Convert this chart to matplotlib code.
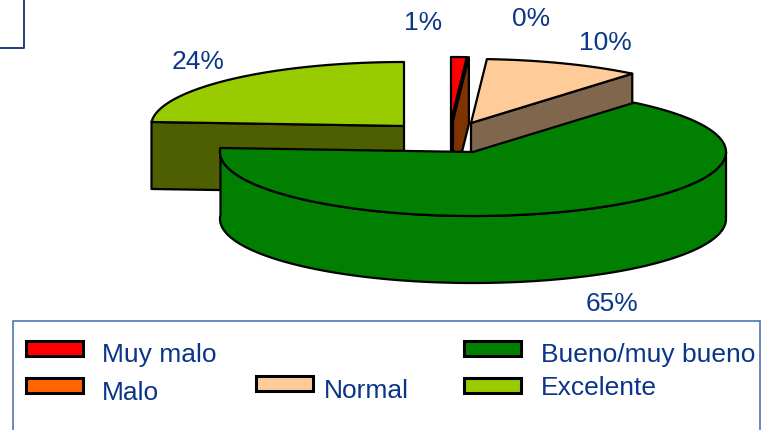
import matplotlib
matplotlib.use('Agg')
import matplotlib.pyplot as plt
import numpy as np
from matplotlib.patches import Polygon, Rectangle

plt.rcParams['font.family'] = ['Liberation Sans', 'DejaVu Sans']

categories = ['Muy malo', 'Malo', 'Normal', 'Bueno/muy bueno', 'Excelente']
values = [1, 0, 10, 65, 24]
pct_labels = ['1%', '0%', '10%', '65%', '24%']
top_colors = ['#FF0000', '#FF6600', '#FFCC99', '#007F00', '#99CC00']
side_colors = ['#7F0000', '#7F3300', '#80664C', '#007F00', '#4D5F00']

# 饼图的几何参数（像素）
rx, ry, depth = 253, 64, 67
apex = [(451, 121), (453, 121), (471, 123), (473, 152), (404, 126)]
label_pos = [(423, 23), (531, 19), (605, 43), (612, 304), (198, 62)]
draw_order = [4, 0, 1, 2, 3]

legend_box = [(26, 341), (26, 378), (256, 376), (464, 341), (464, 378)]
legend_text = [(102, 355), (102, 393), (324, 391), (541, 355), (541, 388)]
navy = '#0B3588'

fig = plt.figure(figsize=(7.72, 4.30), dpi=100)
ax = fig.add_axes([0, 0, 1, 1])
ax.set_xlim(0, 772)
ax.set_ylim(430, 0)
ax.axis('off')

angles = np.cumsum([0] + values) * 3.6


def rim(cx, cy, a0, a1):
    t = np.radians(np.linspace(a0, a1, max(int(abs(a1 - a0) * 2), 2)))
    return np.column_stack([cx + rx * np.sin(t), cy - ry * np.cos(t)])


def poly(pts, color, z):
    ax.add_patch(Polygon(pts, closed=True, facecolor=color, edgecolor='black',
                         linewidth=1.6, joinstyle='round', zorder=z))


for z, i in enumerate(draw_order):
    cx, cy = apex[i]
    a0, a1 = angles[i], angles[i + 1]
    base = z * 5 + 2
    down = np.array([0, depth])
    # 切面：右半边看到结束角，左半边看到开始角
    p0 = rim(cx, cy, a0, a0)[0]
    p1 = rim(cx, cy, a1, a1)[0]
    if a1 < 180:
        poly([(cx, cy), p1, p1 + down, (cx, cy + depth)], side_colors[i], base)
    if a0 > 180:
        poly([(cx, cy), p0, p0 + down, (cx, cy + depth)], side_colors[i], base)
    # 外侧面（下半圈）
    lo, hi = max(a0, 90), a1
    if a0 < 270 and hi > lo:
        edge = rim(cx, cy, lo, hi)
        poly(np.vstack([edge, edge[::-1] + down]), side_colors[i], base + 1)
    if a1 > a0:
        poly(np.vstack([[(cx, cy)], rim(cx, cy, a0, a1)]), top_colors[i], base + 2)

for lab, (x, y) in zip(pct_labels, label_pos):
    ax.text(x, y, lab, color=navy, fontsize=19, ha='center', va='center', zorder=60)

# 图例框
ax.add_patch(Rectangle((12.5, 321), 747, 130, facecolor='white', edgecolor='#4F74B3',
                       linewidth=1.2, zorder=50))
for name, color, (x, y), (tx, ty) in zip(categories, top_colors, legend_box, legend_text):
    ax.add_patch(Rectangle((x, y), 57, 15, facecolor=color, edgecolor='black',
                           linewidth=2.2, zorder=51))
    ax.text(tx, ty, name, color=navy, fontsize=19, ha='left', va='center', zorder=52)

# 左上角的框
ax.plot([24, 24, 0], [0, 48, 48], color='#1F3F7F', linewidth=1.4, zorder=60)

fig.savefig('out.png', dpi=100)
plt.close(fig)
